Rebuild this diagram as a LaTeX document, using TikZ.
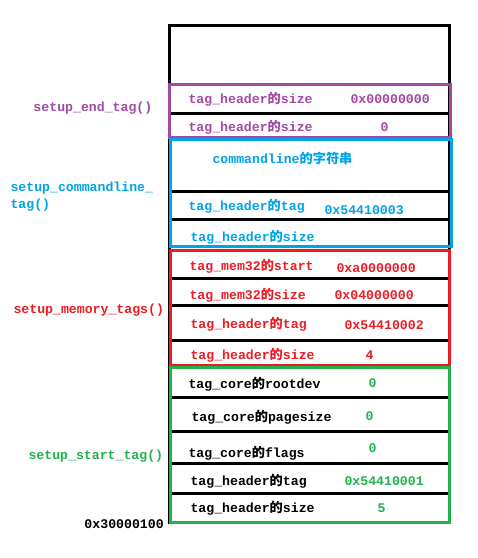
\documentclass[tikz,border=0pt]{standalone}
\usepackage{fontspec}
\setmonofont{Liberation Mono}
\newfontfamily\cjk{Noto Sans CJK SC}
\definecolor{tagpurple}{HTML}{A349A4}
\definecolor{tagcyan}{HTML}{00A2E8}
\definecolor{tagred}{HTML}{ED1C24}
\definecolor{taggreen}{HTML}{22B14C}
\newcommand{\zhde}{{\cjk 的}}
\tikzset{
  field/.style={anchor=west, inner sep=0pt, font=\ttfamily\bfseries\fontsize{13.2}{15}\selectfont},
  fn/.style={field}
}

\begin{document}
\begin{tikzpicture}[x=1pt,y=-1pt,line width=3pt]
  \useasboundingbox (0,0) rectangle (478,558);
  \begin{scope}
    % tag list frame and rows
    \draw (169,25) rectangle (449,522);
    \foreach \y in {113,191,219,278,305,340,397,431,463,493}
      \draw (169,\y) -- (451,\y);

    \draw [tagpurple] (169,84) rectangle (450,137);
    \draw [tagcyan] (170,139) rectangle (451,246);
    \draw [tagred] (170,250) rectangle (449,365);
    \draw [taggreen] (170,367) rectangle (449,522);

    % end tag
    \node [field, tagpurple] (endsz) at (187,99) {tag\_header\zhde size};
    \node [field, tagpurple] (endszv) at (349,99) {0x00000000};
    \node [field, tagpurple] (endtg) at (187,127) {tag\_header\zhde size};
    \node [field, tagpurple] (endtgv) at (379,127) {0};

    % commandline tag
    \node [field, tagcyan] (cmdstr) at (211,158) {commandline{\cjk 的字符串}};
    \node [field, tagcyan] (cmdtg) at (187,206) {tag\_header\zhde tag};
    \node [field, tagcyan] (cmdtgv) at (323,210) {0x54410003};
    \node [field, tagcyan] (cmdsz) at (189,237) {tag\_header\zhde size};

    % memory tags
    \node [field, tagred] (memst) at (188,266) {tag\_mem32\zhde start};
    \node [field, tagred] (memstv) at (335,268) {0xa0000000};
    \node [field, tagred] (memsz) at (188,295) {tag\_mem32\zhde size};
    \node [field, tagred] (memszv) at (333,295) {0x04000000};
    \node [field, tagred] (memtg) at (189,324) {tag\_header\zhde tag};
    \node [field, tagred] (memtgv) at (343,325) {0x54410002};
    \node [field, tagred] (memhs) at (189,355) {tag\_header\zhde size};
    \node [field, tagred] (memhsv) at (364,355) {4};

    % start tag
    \node [field] (corerd) at (187,384) {tag\_core\zhde rootdev};
    \node [field, taggreen] (corerdv) at (367,383) {0};
    \node [field] (coreps) at (190,417) {tag\_core\zhde pagesize};
    \node [field, taggreen] (corepsv) at (364,416) {0};
    \node [field] (corefl) at (187,453) {tag\_core\zhde flags};
    \node [field, taggreen] (coreflv) at (367,448) {0};
    \node [field] (sttg) at (189,481) {tag\_header\zhde tag};
    \node [field, taggreen] (sttgv) at (343,481) {0x54410001};
    \node [field] (stsz) at (189,508) {tag\_header\zhde size};
    \node [field, taggreen] (stszv) at (376,508) {5};

    % functions
    \node [fn, tagpurple] (fend) at (32,108) {setup\_end\_tag()};
    \node [fn, tagcyan] (fcmd) at (9,188) {setup\_commandline\_};
    \node [fn, tagcyan] (fcmd2) at (9,205) {tag()};
    \node [fn, tagred] (fmem) at (12,310) {setup\_memory\_tags()};
    \node [fn, taggreen] (fstart) at (27,456) {setup\_start\_tag()};
    \node [fn] (addr) at (83,524) {0x30000100};
  \end{scope}
\end{tikzpicture}
\end{document}
